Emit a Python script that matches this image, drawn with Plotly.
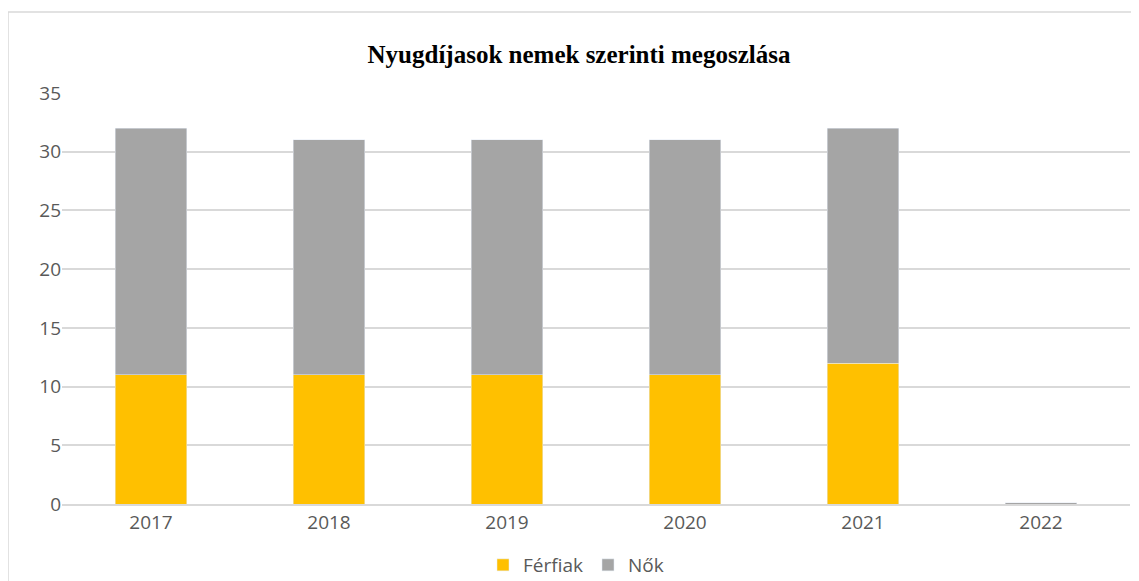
import plotly.graph_objects as go

years = ["2017", "2018", "2019", "2020", "2021", "2022"]
ferfiak = [11, 11, 11, 11, 12, 0]
nok = [21, 20, 20, 20, 20, 0.1]
y_ticks = [0, 5, 10, 15, 20, 25, 30, 35]

fig = go.Figure()
fig.add_trace(go.Bar(x=years, y=ferfiak, name="Férfiak", marker_color="#FFC000", width=0.4))
fig.add_trace(go.Bar(x=years, y=nok, name="Nők", marker_color="#A5A5A5", width=0.4))

# page body has an 8px margin, so the figure is placed at (8, 8)
W, H = 1131, 573
ml, mr, mt, mb = 54, 9, 85, 77
pw, ph = W - ml - mr, H - mt - mb

fig.update_layout(
    width=W, height=H,
    barmode="stack",
    plot_bgcolor="white", paper_bgcolor="white",
    margin=dict(l=ml, r=mr, t=mt, b=mb, autoexpand=False),
    title=dict(text="<b>Nyugdíjasok nemek szerinti megoszlása</b>", x=571 / W, xanchor="center",
               y=1 - 46 / H, yanchor="middle",
               font=dict(family="Liberation Serif", size=25, color="#000000")),
    font=dict(family="Open Sans", color="#595959", size=19),
    legend=dict(orientation="h", xref="container", x=568 / W, xanchor="center",
                yref="container", y=(H - 557) / H,
                yanchor="middle", bgcolor="rgba(0,0,0,0)", itemwidth=30,
                font=dict(size=19, color="#595959"), traceorder="normal"),
    xaxis=dict(showgrid=False, showline=True, linecolor="#D9D9D9", linewidth=1.5, ticks="",
               tickfont=dict(size=19, color="#595959")),
    yaxis=dict(range=[0, 35], tickvals=y_ticks, showgrid=True, gridcolor="#D9D9D9", gridwidth=1.5,
               zeroline=False, ticks="", ticklen=0, tickfont=dict(size=19, color="#595959")),
    shapes=[dict(type="rect", xref="paper", yref="paper",
                 x0=-ml / pw, x1=1.2, y0=-0.5, y1=(H - mb - 4) / ph,
                 line=dict(color="#D9D9D9", width=1.5), fillcolor="rgba(0,0,0,0)", layer="below")],
)
fig.write_html("out.html")
